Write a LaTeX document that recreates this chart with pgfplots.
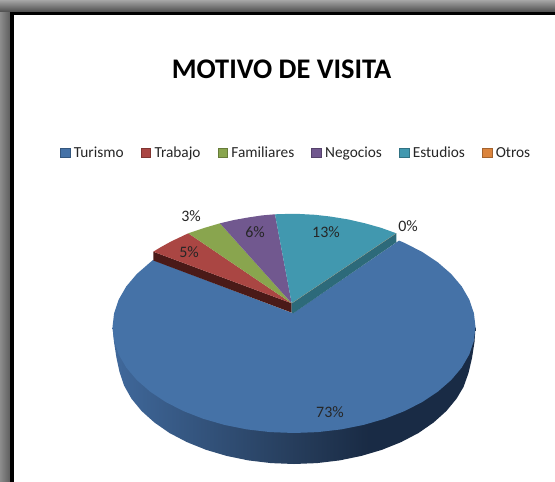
\documentclass[border=0pt]{standalone}
\usepackage{fontspec}
\setmainfont{Carlito}
\usepackage{pgfplots}
\pgfplotsset{compat=1.18}
\definecolor{TurBlue}{RGB}{69,114,167}
\definecolor{TraRed}{RGB}{170,70,67}
\definecolor{FamGreen}{RGB}{137,165,78}
\definecolor{NegPurple}{RGB}{113,88,143}
\definecolor{EstTeal}{RGB}{65,152,175}
\definecolor{OtrOrange}{RGB}{219,132,61}
\definecolor{RedWall}{RGB}{74,26,24}
\definecolor{TealWall}{RGB}{45,106,122}
\pgfdeclarehorizontalshading{bluewall}{100bp}{
  rgb(0bp)=(0.25,0.41,0.61);
  rgb(25bp)=(0.25,0.41,0.61);
  rgb(50bp)=(0.15,0.24,0.36);
  rgb(60bp)=(0.10,0.17,0.27);
  rgb(100bp)=(0.10,0.17,0.27)}
\pgfdeclareverticalshading{topband}{100bp}{
  rgb(0bp)=(0.30,0.30,0.30);
  rgb(25bp)=(0.30,0.30,0.30);
  rgb(75bp)=(0.65,0.65,0.65);
  rgb(100bp)=(0.65,0.65,0.65)}
\pgfdeclarehorizontalshading{leftband}{100bp}{
  rgb(0bp)=(0.55,0.55,0.55);
  rgb(25bp)=(0.55,0.55,0.55);
  rgb(75bp)=(0.35,0.35,0.35);
  rgb(100bp)=(0.35,0.35,0.35)}
\begin{document}
\begin{tikzpicture}
\begin{axis}[
    scale only axis,
    width=555bp,
    height=482bp,
    xmin=0, xmax=555,
    ymin=0, ymax=482,
    y dir=reverse,
    hide axis,
    legend columns=6,
    legend style={at={(axis cs:60,153)}, anchor=west, draw=none, fill=none,
        font=\fontsize{15.4}{17}\selectfont, text=black!85, inner xsep=0pt, inner ysep=0pt,
        /tikz/every even column/.append style={column sep=13.6bp},
        nodes={inner xsep=3.5bp}},
    legend image code/.code={\draw[#1, line width=.7bp] (0bp,-4.5bp) rectangle (9.5bp,4.5bp);},
]
% window frame
\addplot[shade, shading=leftband, draw=none, forget plot] coordinates {(0,0) (11,0) (11,482) (0,482)};
\addplot[shade, shading=topband, draw=none, forget plot] coordinates {(0,0) (555,0) (555,12) (0,12)};
\addplot[fill=black, draw=none, forget plot] coordinates {(10,12) (555,12) (555,482) (10,482)};
\addplot[fill=white, draw=none, forget plot] coordinates {(14,15) (555,15) (555,482) (14,482)};

\addlegendimage{fill=TurBlue, draw=TurBlue!75!black}
\addlegendentry{Turismo}
\addlegendimage{fill=TraRed, draw=TraRed!75!black}
\addlegendentry{Trabajo}
\addlegendimage{fill=FamGreen, draw=FamGreen!75!black}
\addlegendentry{Familiares}
\addlegendimage{fill=NegPurple, draw=NegPurple!75!black}
\addlegendentry{Negocios}
\addlegendimage{fill=EstTeal, draw=EstTeal!75!black}
\addlegendentry{Estudios}
\addlegendimage{fill=OtrOrange, draw=OtrOrange!75!black}
\addlegendentry{Otros}

% Turismo: side wall
\addplot[shade, shading=bluewall, draw=none, forget plot] coordinates {
  (475.5,327) (474.5,342) (472,358) (468.5,373) (463.5,387) (456.6,398.6) (446.4,411) (433.6,422.5)
  (418.5,433) (401.1,442.1) (382,449.8) (361.4,455.9) (339.6,460.4) (317,463.1) (294,464)
  (271,463.1) (248.4,460.4) (226.6,455.9) (206,449.8) (186.9,442.1) (169.5,433) (154.4,422.5)
  (141.6,411) (131.4,398.6) (124,385.4) (119.5,371.8) (116.5,358) (114,342) (112.5,327)
  (294,327)};
% Turismo: top
\addplot[fill=TurBlue, draw=none, forget plot] coordinates {
  (399,240.6) (404.5,242.9) (422.3,252) (438,262.5) (451.2,274) (461.7,286.4) (469.3,299.6) (473.9,313.2)
  (475.5,327) (473.9,340.8) (469.3,354.4) (461.7,367.6) (451.2,380) (438,391.5) (422.3,402) (404.5,411.1)
  (384.75,418.8) (363.5,424.9) (341,429.4) (317.7,432.1) (294,433) (270.3,432.1) (247,429.4) (224.5,424.9)
  (203.25,418.8) (183.5,411.1) (165.7,402) (150,391.5) (136.8,380) (126.3,367.6) (118.7,354.4) (114.1,340.8)
  (112.5,327) (114.1,313.2) (118.7,299.6) (126.3,286.4) (136.8,274) (150,262.5) (153,260)
  (293,313.3)};
% walls of the upper wedge
\addplot[fill=RedWall, draw=none, forget plot] coordinates {(153.3,251.7) (291.7,303.3) (291.7,312.6) (153.3,260.5)};
\addplot[fill=TealWall, draw=none, forget plot] coordinates {(291.7,303.3) (396.3,233.3) (396.3,242.3) (293.3,313.3) (291.7,312.6)};
% upper slices
\addplot[fill=TraRed, draw=none, forget plot] coordinates {(291.7,303.3) (153.3,251.7) (160,247.6) (171,241.5) (188.3,233.3)};
\addplot[fill=FamGreen, draw=none, forget plot] coordinates {(291.7,303.3) (188.3,233.3) (204,228) (220,223.3)};
\addplot[fill=NegPurple, draw=none, forget plot] coordinates {(291.7,303.3) (220,223.3) (234,220) (248,217.5) (262,215.4) (275,214.3)};
\addplot[fill=EstTeal, draw=none, forget plot] coordinates {(291.7,303.3) (275,214.3) (288,213.9) (300,214) (315,214.8) (330,216.5) (348,219.4) (365,223.3) (381,227.8) (396.3,233.3)};
\addplot[fill=OtrOrange, draw=none, forget plot] coordinates {(291.7,303.3) (396.3,233.3) (396.3,233.3)};

\node[font=\bfseries\fontsize{28.5}{32}\selectfont, anchor=center] at (axis cs:281.5,69) {MOTIVO DE VISITA};
\begin{scope}[every node/.style={font=\fontsize{16}{18}\selectfont, text=black!85}]
\node at (axis cs:330,411.7) {73\%};
\node at (axis cs:189,251.7) {5\%};
\node at (axis cs:191,216) {3\%};
\node at (axis cs:255,232.5) {6\%};
\node at (axis cs:326,232.5) {13\%};
\node at (axis cs:408,226) {0\%};
\end{scope}
\end{axis}
\end{tikzpicture}
\end{document}
